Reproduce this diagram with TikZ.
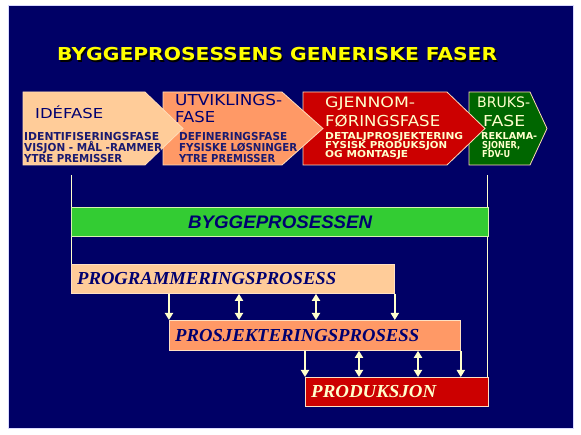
\documentclass[tikz,border=0pt]{standalone}
\usepackage{fontspec}
\usepackage{graphicx}
\setmainfont{Liberation Serif}
\newfontfamily\comicf{DejaVu Sans}
\newfontfamily\arialf{Liberation Sans}
\usetikzlibrary{arrows.meta}
\definecolor{bgnavy}{HTML}{000066}
\definecolor{txnavy}{HTML}{000070}
\definecolor{smnavy}{HTML}{1A1A70}
\definecolor{peach}{HTML}{FFCC99}
\definecolor{orng}{HTML}{FF9966}
\definecolor{redd}{HTML}{CC0000}
\definecolor{dgreen}{HTML}{006600}
\definecolor{lime}{HTML}{33CC33}
\definecolor{cream}{HTML}{FFFFCC}
\definecolor{ttl}{HTML}{FFFF00}
% fit text: #1 font, #2 width, #3 cap height, #4 text
\newcommand\fitt[4]{\resizebox{#2pt}{#3pt}{#1\smash{#4}\vphantom{H}}}
\tikzset{
  lbl/.style={inner sep=0pt, anchor=base west},
  phase/.style={draw=peach!70!white, line width=0.8pt},
  bar/.style={draw=peach!60!white, line width=0.8pt, inner sep=0pt, anchor=north west},
  vline/.style={draw=cream, line width=1pt},
  arr/.style={draw=cream, line width=2pt, -{Triangle[width=8pt,length=7pt]}},
  darr/.style={draw=cream, line width=2pt, {Triangle[width=8pt,length=7pt]}-{Triangle[width=8pt,length=7pt]}},
}
\begin{document}
\begin{tikzpicture}[x=1pt,y=-1pt]
\useasboundingbox (0,0) rectangle (581,435);
\fill[white] (0,0) rectangle (581,435);
\fill[bgnavy] (8,5) rectangle (573,428);
\draw[blue!15, line width=0.6pt] (8,5) rectangle (573,428);

% title
\node[lbl, text=black] (titleshadow) at (58.3,62.3) {\fitt{\comicf\bfseries}{440}{13}{BYGGEPROSESSENS GENERISKE FASER}};
\node[lbl, text=ttl] (title) at (57,61) {\fitt{\comicf\bfseries}{440}{13}{BYGGEPROSESSENS GENERISKE FASER}};

% phase arrows (drawn right to left so each tip overlaps the next)
\path[phase, fill=dgreen] (469,92) -- (530,92) -- (547,128.5) -- (530,165) -- (469,165) -- cycle;
\path[phase, fill=redd] (303,92) -- (447,92) -- (485,128.5) -- (447,165) -- (303,165) -- cycle;
\path[phase, fill=orng] (163,92) -- (282,92) -- (323,128.5) -- (282,165) -- (163,165) -- cycle;
\path[phase, fill=peach] (23,92) -- (145,92) -- (183,128.5) -- (145,165) -- (23,165) -- cycle;

% IDEFASE
\node[lbl, text=txnavy] (p1a) at (35,119) {\fitt{\comicf}{68}{10}{IDÉFASE}};
\node[lbl, text=smnavy] (p1b) at (24,140.5) {\fitt{\comicf\bfseries}{135}{8}{IDENTIFISERINGSFASE}};
\node[lbl, text=smnavy] (p1c) at (24,152) {\fitt{\comicf\bfseries}{138}{8}{VISJON - MÅL -RAMMER}};
\node[lbl, text=smnavy] (p1d) at (24,163) {\fitt{\comicf\bfseries}{98}{8}{YTRE PREMISSER}};
% UTVIKLINGSFASE
\node[lbl, text=txnavy] (p2a) at (175,106) {\fitt{\comicf}{107}{11}{UTVIKLINGS-}};
\node[lbl, text=txnavy] (p2b) at (175,123) {\fitt{\comicf}{40}{11}{FASE}};
\node[lbl, text=smnavy] (p2c) at (179,140.5) {\fitt{\comicf\bfseries}{108}{8}{DEFINERINGSFASE}};
\node[lbl, text=smnavy] (p2d) at (179,152) {\fitt{\comicf\bfseries}{118}{8}{FYSISKE LØSNINGER}};
\node[lbl, text=smnavy] (p2e) at (179,163) {\fitt{\comicf\bfseries}{96}{8}{YTRE PREMISSER}};
% GJENNOMFORINGSFASE
\node[lbl, text=cream] (p3a) at (325,108) {\fitt{\comicf}{90}{10.5}{GJENNOM-}};
\node[lbl, text=cream] (p3b) at (325,127) {\fitt{\comicf}{115}{11}{FØRINGSFASE}};
\node[lbl, text=cream] (p3c) at (325,139.5) {\fitt{\comicf\bfseries}{138}{7}{DETALJPROSJEKTERING}};
\node[lbl, text=cream] (p3d) at (325,148.5) {\fitt{\comicf\bfseries}{122}{7}{FYSISK PRODUKSJON}};
\node[lbl, text=cream] (p3e) at (325,157.5) {\fitt{\comicf\bfseries}{83}{7}{OG MONTASJE}};
% BRUKSFASE
\node[lbl, text=cream] (p4a) at (477,108) {\fitt{\comicf}{53}{10.5}{BRUKS-}};
\node[lbl, text=cream] (p4b) at (483,127) {\fitt{\comicf}{42}{11}{FASE}};
\node[lbl, text=cream] (p4c) at (481,139.5) {\fitt{\comicf\bfseries}{56}{7}{REKLAMA-}};
\node[lbl, text=cream] (p4d) at (482,148.5) {\fitt{\comicf\bfseries}{38}{7}{SJONER,}};
\node[lbl, text=cream] (p4e) at (482,157.5) {\fitt{\comicf\bfseries}{28}{7}{FDV-U}};

% bars
\coordinate (ltop) at (71,175);
\coordinate (rtop) at (487,175);
\node[bar, fill=peach, minimum width=323pt, minimum height=29pt] (prog) at (71,264) {};
\node[bar, fill=orng, minimum width=291pt, minimum height=30pt] (prosj) at (169,320) {};
\node[bar, fill=redd, minimum width=183pt, minimum height=29pt] (prod) at (305,377) {};
\draw[vline] (ltop) -- (ltop |- prog.north);
\draw[vline] (rtop) -- (rtop |- prod.north);
\node[bar, fill=lime, draw=cream!80!lime, minimum width=417pt, minimum height=29pt] (bygg) at (71,207) {};

\node[lbl, text=txnavy] (byggtxt) at (188,228.5) {\fitt{\arialf\bfseries\itshape}{184}{12.5}{BYGGEPROSESSEN}};
\node[lbl, text=txnavy] (progtxt) at (77,285) {\fitt{\bfseries\itshape}{259}{12}{PROGRAMMERINGSPROSESS}};
\node[lbl, text=txnavy] (prosjtxt) at (175,341.5) {\fitt{\bfseries\itshape}{244}{12}{PROSJEKTERINGSPROSESS}};
\node[lbl, text=cream] (prodtxt) at (311,397) {\fitt{\bfseries\itshape}{125}{12}{PRODUKSJON}};

% arrows programmering -> prosjektering
\draw[arr] (prog.south -| prosj.west) -- (prosj.north west);
\draw[darr] (239,0 |- prog.south) -- (239,0 |- prosj.north);
\draw[darr] (316,0 |- prog.south) -- (316,0 |- prosj.north);
\draw[arr] (prog.south east) -- (prog.east |- prosj.north);
% arrows prosjektering -> produksjon
\draw[arr] (prosj.south -| prod.west) -- (prod.north west);
\draw[darr] (359,0 |- prosj.south) -- (359,0 |- prod.north);
\draw[darr] (418,0 |- prosj.south) -- (418,0 |- prod.north);
\draw[arr] (prosj.south east) -- (prosj.east |- prod.north);
\end{tikzpicture}
\end{document}
